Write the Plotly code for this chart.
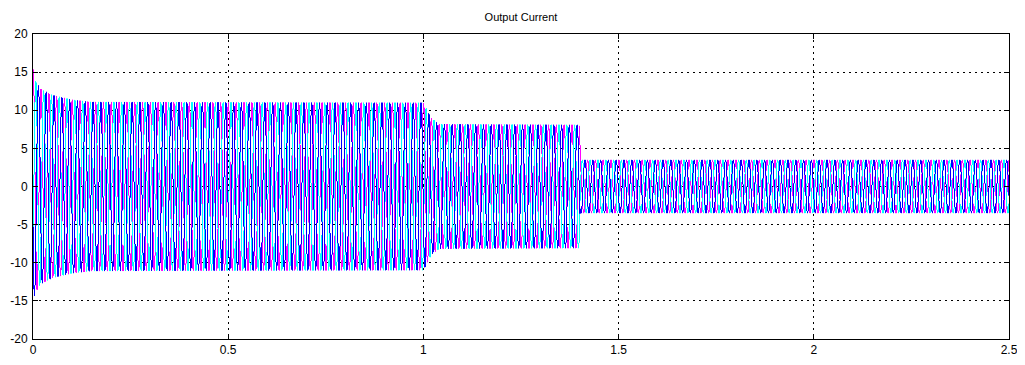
import numpy as np
import plotly.graph_objects as go

# ---- values ----
title_text = "Output Current"
phase_names = ["Phase A", "Phase B", "Phase C"]
phase_colors = ["#FF00FF", "#00FFFF", "#0000FF"]
phase_offsets_deg = [-10, 230, 110]

# envelope (peak current) of the three-phase waveform
env_time = [0.0, 0.005, 0.02, 0.05, 0.10, 0.15, 1.00, 1.02, 1.04, 1.40, 1.402, 2.50]
env_amp = [15.5, 14.0, 12.8, 12.0, 11.4, 11.1, 11.0, 9.0, 8.2, 8.1, 3.5, 3.5]

freq_hz = 50.0
t_end = 2.5
screen_columns = 976          # scope trace drawn column by column, as on the original screen
sub_samples = 24

x_tickvals = [0, 0.5, 1, 1.5, 2, 2.5]
x_ticktext = ["0", "0.5", "1", "1.5", "2", "2.5"]
y_tickvals = [-20, -15, -10, -5, 0, 5, 10, 15, 20]
y_ticktext = ["-20", "-15", "-10", "-5", "0", "5", "10", "15", "20"]

# ---- build traces: signal range covered inside each screen column ----
col_w = t_end / screen_columns
col = np.arange(screen_columns)
t_fine = (col[:, None] + np.linspace(0, 1, sub_samples)[None, :]) * col_w
env = np.interp(t_fine, env_time, env_amp)
t_center = (col + 0.5) * col_w

fig = go.Figure()
for name, color, off in zip(phase_names, phase_colors, phase_offsets_deg):
    sig = env * np.cos(2 * np.pi * freq_hz * t_fine + np.deg2rad(off))
    lo = sig.min(axis=1)
    hi = sig.max(axis=1)
    xs = np.column_stack([t_center, t_center, np.full(screen_columns, np.nan)]).ravel()
    ys = np.column_stack([lo, hi, np.full(screen_columns, np.nan)]).ravel()
    fig.add_trace(go.Scatter(x=xs, y=ys, mode="lines", name=name,
                             line=dict(color=color, width=1),
                             connectgaps=False, hoverinfo="skip"))

axis_common = dict(
    showline=True, linecolor="black", linewidth=1, mirror="ticks",
    ticks="inside", ticklen=5, tickcolor="black",
    showgrid=True, gridcolor="black", gridwidth=1, griddash="2px,4px",
    zeroline=False, automargin=False,
    tickfont=dict(family="Liberation Sans, Arial, sans-serif", size=12, color="black"),
)

# the page body has an 8px margin, so the figure is sized to fill the window
fig.update_layout(
    width=1017, height=357,
    margin=dict(l=25, r=16, t=26, b=26),
    paper_bgcolor="white", plot_bgcolor="white",
    showlegend=False,
    title=dict(text=title_text, x=0.5, xref="paper", xanchor="center",
               y=1 - 9 / 357, yanchor="middle",
               font=dict(family="Liberation Sans, Arial, sans-serif", size=11, color="black")),
    xaxis=dict(range=[0, 2.5], tickvals=x_tickvals, ticktext=x_ticktext, **axis_common),
    yaxis=dict(range=[-20, 20], tickvals=y_tickvals, ticktext=y_ticktext,
               ticklabelstandoff=2, **axis_common),
)

fig.write_html("out.html")
